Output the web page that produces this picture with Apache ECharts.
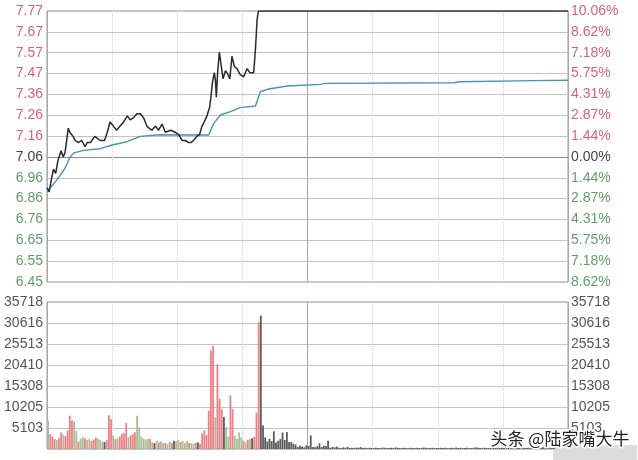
<!DOCTYPE html>
<html>
<head>
<meta charset="utf-8">
<script src="https://cdn.jsdelivr.net/npm/echarts/dist/echarts.min.js"></script>
<style>
html,body{margin:0;padding:0;background:#fff;}
#chart{width:638px;height:460px;}
</style>
</head>
<body>
<div id="chart"></div>
<script>
// ---- data ----
const prevClose = 7.06;
const limitUp = 7.77;

// price ticks (left) and percent ticks (right), bottom to top
const priceTicks = ['6.45','6.55','6.65','6.76','6.86','6.96','7.06','7.16','7.26','7.36','7.47','7.57','7.67','7.77'];
const pctTicks = ['8.62%','7.18%','5.75%','4.31%','2.87%','1.44%','0.00%','1.44%','2.87%','4.31%','5.75%','7.18%','8.62%','10.06%'];
const volTicks = ['','5103','10205','15308','20410','25513','30616','35718'];
const volMax = 35718;

// intraday price line (minute from 9:30, price)
const priceMinutes = [0,1,2,3,4,5,6.5,7.5,8.3,9.8,10.5,12,13,14.5,16,17.5,18.5,20,22,24.5,26.5,27.8,29,30.6,32,33.7,35.3,37,38.3,39.8,41.4,43,44.5,46,47,48.3,50,51.4,53,54.5,57,59,60.6,62.2,63.7,65.3,66.3,67.5,69,70.3,71.4,72.4,73.7,74.9,75.5,76.3,77.1,77.6,78,78.6,79.4,80.3,81.1,82.2,83.4,84.2,85.2,86.3,87.5,89,90.6,92.2,93.4,95.2,96,96.8,97.4,240];
const priceValues = [6.91,6.89,6.95,7.00,6.98,7.04,7.09,7.06,7.08,7.20,7.18,7.16,7.14,7.13,7.14,7.11,7.13,7.13,7.16,7.14,7.14,7.18,7.23,7.21,7.19,7.21,7.23,7.26,7.24,7.25,7.27,7.27,7.25,7.21,7.20,7.19,7.21,7.19,7.22,7.18,7.19,7.18,7.17,7.14,7.14,7.13,7.13,7.14,7.16,7.17,7.21,7.23,7.26,7.30,7.35,7.43,7.47,7.43,7.35,7.47,7.57,7.50,7.44,7.48,7.46,7.44,7.55,7.50,7.49,7.46,7.45,7.49,7.47,7.47,7.58,7.73,7.77,7.77];

// average price line
const avgMinutes = [0,1.5,4.5,8.3,10.6,12.5,16.8,24.5,30,36.8,43,52,70,74.5,76.8,79.9,84.5,89,96,98.3,101.5,110.6,126,128.3,187.5,190,224,240];
const avgValues = [6.89,6.91,6.947,7.005,7.06,7.08,7.092,7.10,7.118,7.134,7.16,7.168,7.167,7.167,7.223,7.264,7.28,7.30,7.308,7.377,7.389,7.405,7.413,7.418,7.421,7.426,7.431,7.433];

// volume per minute (240 minutes)
const volumes = [
 6900,3600,3000,2400,2200,2600,4000,3500,3200,4500,
 8100,6900,6700,4400,1800,2500,2900,2600,2200,2400,
 2000,2300,2800,2500,2200,1800,1700,2200,8200,7200,
 3300,2400,2600,3000,3700,3800,6300,2800,3300,3600,
 4100,8100,5300,3000,2500,2300,2500,2400,1700,1400,
 2000,1600,1900,1500,1400,1200,1800,1500,2000,1900,
 2200,1700,2000,1400,1900,1500,1400,1300,1500,1600,
 1200,3800,4500,3400,9300,23900,25100,7700,20600,12200,
 9700,7800,5300,3000,13000,9700,3200,2400,4000,2800,
 2000,1600,2200,2500,2600,3000,8900,30800,32400,5700,
 2800,1800,2500,1900,4300,1600,2000,2400,4000,2200,
 4100,1700,1700,1300,1100,500,800,600,400,900,
 700,3300,500,400,700,1400,500,800,700,2000,
 300,500,400,600,300,200,400,300,500,250,
 300,200,350,300,450,250,300,200,300,250,
 200,300,250,200,350,300,200,250,300,200,
 400,300,250,200,300,250,200,300,250,200,
 300,250,200,350,300,200,250,300,200,250,
 200,300,250,300,200,250,300,200,350,250,
 300,200,250,300,200,250,300,400,300,250,
 200,300,250,200,300,250,200,300,250,300,
 250,200,300,250,200,350,300,250,200,300,
 250,300,200,250,300,350,250,300,400,300,
 250,300,200,350,300,250,400,300,350,500
];
// bar direction: r = up, g = down, k = unchanged (first 100 minutes; later all unchanged)
const volDirs = ['grrrgrrgrr','rrggrggrgg','rrrgggkrrr','grgrrrrgrr','rggggggrgk','grggrggrkg','grgggrggrk','rrrrrrrgrr','rkggrrgggg','rgrgkrrrkk'].join('');

// ---- chart ----
const step = (limitUp - prevClose) / 7;
const pMin = prevClose - 6 * step;
const pMax = limitUp;

const RED = '#d9627a', GREEN = '#5f9e6b', DARK = '#444';
const barColor = { r: '#ef7f86', g: '#a3c096', k: '#5a5a5a' };

const zip = (xs, ys) => xs.map((x, i) => [x, ys[i]]);
const FONT = 'Liberation Sans, Arial, sans-serif';

const hLine = [];
for (let i = 0; i < priceTicks.length; i++) hLine.push(i === 6 ? '#8a8a8a' : '#c4c4c4');

function xAxes(grid) {
  return [
    { gridIndex: grid, type: 'value', min: 0, max: 240, interval: 30,
      axisLine: { show: false }, axisTick: { show: false }, axisLabel: { show: false },
      splitLine: { show: true, lineStyle: { color: '#d8d0d4', type: 'dotted', width: 1 } } },
    { gridIndex: grid, type: 'value', min: 0, max: 240, interval: 120,
      axisLine: { show: false }, axisTick: { show: false }, axisLabel: { show: false },
      splitLine: { show: true, lineStyle: { color: '#a8a8a8', type: 'solid', width: 1 } } }
  ];
}

const priceColor = v => { const i = Math.round(Number(v)); return i > 6 ? RED : (i === 6 ? DARK : GREEN); };

const option = {
  animation: false,
  backgroundColor: '#ffffff',
  grid: [
    { left: 47, right: 70, top: 11, height: 271, show: true, borderColor: '#9a9a9a', borderWidth: 1 },
    { left: 47, right: 70, top: 302, height: 147, show: true, borderColor: '#9a9a9a', borderWidth: 1 }
  ],
  xAxis: [...xAxes(0), ...xAxes(1)],
  yAxis: [
    { gridIndex: 0, type: 'value', min: pMin, max: pMax, show: false },
    { gridIndex: 0, type: 'value', min: 0, max: 13, interval: 1, position: 'left',
      axisLine: { show: false }, axisTick: { show: false },
      axisLabel: { formatter: v => priceTicks[Math.round(v)], color: priceColor, fontSize: 14, fontFamily: FONT, margin: 4 },
      splitLine: { show: true, lineStyle: { color: hLine, width: 1 } } },
    { gridIndex: 0, type: 'value', min: 0, max: 13, interval: 1, position: 'right',
      axisLine: { show: false }, axisTick: { show: false },
      axisLabel: { formatter: v => pctTicks[Math.round(v)], color: priceColor, fontSize: 14, fontFamily: FONT, margin: 3 },
      splitLine: { show: false } },
    { gridIndex: 1, type: 'value', min: 0, max: volMax, show: false },
    { gridIndex: 1, type: 'value', min: 0, max: 7, interval: 1, position: 'left',
      axisLine: { show: false }, axisTick: { show: false },
      axisLabel: { formatter: v => volTicks[Math.round(v)], color: '#555', fontSize: 14, fontFamily: FONT, margin: 4 },
      splitLine: { show: true, lineStyle: { color: '#c4c4c4', width: 1 } } },
    { gridIndex: 1, type: 'value', min: 0, max: 7, interval: 1, position: 'right',
      axisLine: { show: false }, axisTick: { show: false },
      axisLabel: { formatter: v => volTicks[Math.round(v)], color: '#555', fontSize: 14, fontFamily: FONT, margin: 3 },
      splitLine: { show: false } }
  ],
  series: [
    { type: 'line', name: 'avg', xAxisIndex: 0, yAxisIndex: 0, data: zip(avgMinutes, avgValues),
      symbol: 'none', lineStyle: { color: '#4a93b8', width: 1.4 }, z: 3 },
    { type: 'line', name: 'price', xAxisIndex: 0, yAxisIndex: 0, data: zip(priceMinutes, priceValues),
      symbol: 'none', lineStyle: { color: '#2a2a2a', width: 1.5 }, z: 4 },
    { type: 'bar', name: 'volume', xAxisIndex: 2, yAxisIndex: 3, barWidth: 1.8,
      data: volumes.map((v, i) => ({ value: [i + 0.5, v], itemStyle: { color: barColor[volDirs[i] || 'k'] } })) }
  ],
  graphic: [
    { type: 'rect', left: 553, top: 445, shape: { width: 84, height: 20, r: [9, 0, 0, 0] },
      style: { fill: '#dcdcdc' }, z: 50 },
    { type: 'text', left: 489, top: 429, z: 60,
      style: { text: '头条 @陆家嘴大牛', font: '17px "Noto Sans CJK SC", sans-serif', fill: '#222', stroke: '#ffffff', lineWidth: 3 } }
  ]
};

const chart = echarts.init(document.getElementById('chart'), null, { renderer: 'canvas' });
chart.setOption(option);
</script>
</body>
</html>
